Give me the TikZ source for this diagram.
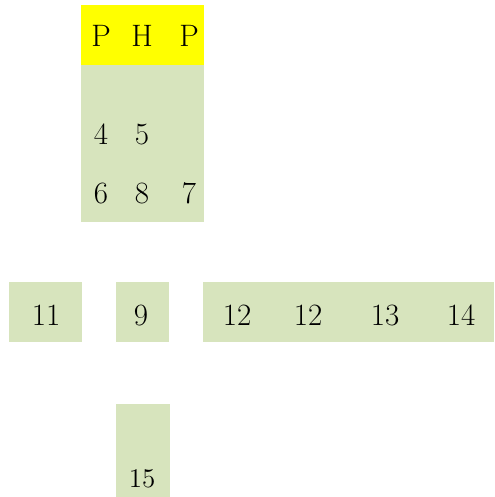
\documentclass[tikz,border=0pt]{standalone}
\usepackage{xcolor}
\usepackage{tikz}
\usetikzlibrary{positioning}
\definecolor{cellgreen}{RGB}{215,228,189}
\definecolor{headyellow}{RGB}{255,255,0}
\tikzset{
  cell/.style={
    draw=none,
    fill=cellgreen,
    inner sep=0pt,
    outer sep=0pt,
    anchor=north west
  },
  headcell/.style={cell,fill=headyellow},
  digit/.style={
    anchor=base,
    inner sep=0pt,
    font=\fontsize{15.5}{18}\selectfont
  },
  smalldigit/.style={digit,font=\fontsize{13.5}{16}\selectfont}
}

\begin{document}
\begin{tikzpicture}[x=0.5pt,y=-0.5pt]
  \useasboundingbox (0,0) rectangle (494,497);
  % boxes
  \node[headcell,minimum width=61.5pt,minimum height=30pt] (head) at (81,5) {};
  \node[cell,minimum width=61.5pt,minimum height=78.5pt] (body) at (81,65) {};
  \node[cell,minimum width=36.5pt,minimum height=30pt] (left) at (9,282) {};
  \node[cell,minimum width=26.5pt,minimum height=30pt] (mid) at (116,282) {};
  \node[cell,minimum width=145.5pt,minimum height=30pt] (row) at (203,282) {};
  \node[cell,minimum width=27pt,minimum height=46.5pt] (foot) at (116,404) {};
  % header
  \node[digit] (pa) at (101,47) {P};
  \node[digit] (h) at (142,47) {H};
  \node[digit] (pb) at (189,47) {P};
  % body
  \node[digit] (n4) at (101,145) {4};
  \node[digit] (n5) at (142,145) {5};
  \node[digit] (n6) at (101,204) {6};
  \node[digit] (n8) at (142,204) {8};
  \node[digit] (n7) at (189,204) {7};
  % middle row
  \node[digit] (n11) at (46,325) {11};
  \node[digit] (n9) at (141,325) {9};
  \node[digit] (n12a) at (237,325) {12};
  \node[digit] (n12b) at (308,325) {12};
  \node[digit] (n13) at (385,325) {13};
  \node[digit] (n14) at (461,325) {14};
  % bottom
  \node[smalldigit] (n15) at (142,487) {15};
\end{tikzpicture}
\end{document}
